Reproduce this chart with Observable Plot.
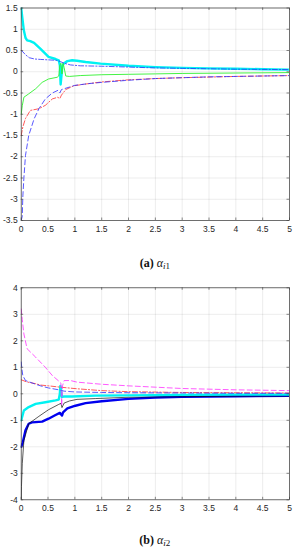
<!DOCTYPE html>
<html><head><meta charset="utf-8">
<script src="https://cdn.jsdelivr.net/npm/d3@7"></script>
<script src="https://cdn.jsdelivr.net/npm/@observablehq/plot@0.6"></script>
<style>
body{margin:0;background:#fff;width:296px;height:550px;position:relative;overflow:hidden}
.panel{position:absolute;left:0}
.cap{position:absolute;left:20.7px;width:268.3px;text-align:center;font-family:"Liberation Serif","DejaVu Serif",serif;font-size:12px;line-height:14px;color:#111}
.cap b{font-weight:bold}
.cap i{font-style:italic}
.cap sub{font-size:9px;vertical-align:-2px}
</style></head><body>
<div id="pa" class="panel" style="top:0"></div>
<div class="cap" style="top:255.5px"><b>(a)</b> <i>α</i><sub><i>i</i>1</sub></div>
<div id="pb" class="panel" style="top:280px"></div>
<div class="cap" style="top:533px"><b>(b)</b> <i>α</i><sub><i>i</i>2</sub></div>
<script>
// shared x ticks
const xTicks = [0, 0.5, 1, 1.5, 2, 2.5, 3, 3.5, 4, 4.5, 5];
// panel (a) y ticks
const yTicksA = [-3.5, -3, -2.5, -2, -1.5, -1, -0.5, 0, 0.5, 1, 1.5];
// panel (b) y ticks
const yTicksB = [-4, -3, -2, -1, 0, 1, 2, 3, 4];

// ---- panel (a) series ----
const tCyanA = [0, 0.02, 0.05, 0.08, 0.11, 0.17, 0.24, 0.36, 0.51, 0.64, 0.7, 0.72, 0.735, 0.75, 0.77, 0.8, 0.86, 0.95, 1.04, 1.2, 1.48, 2, 2.5, 3, 3.5, 4, 4.5, 5];
const vCyanA = [1.5, 1.28, 0.97, 0.8, 0.74, 0.72, 0.68, 0.54, 0.35, 0.3, 0.27, 0.15, -0.3, -0.1, 0.15, 0.2, 0.25, 0.27, 0.26, 0.23, 0.19, 0.14, 0.11, 0.09, 0.08, 0.07, 0.06, 0.05];
const tDashDotBlueA = [0, 0.03, 0.08, 0.15, 0.25, 0.36, 0.5, 0.65, 0.73, 0.8, 0.92, 1.1, 1.5, 2, 2.5, 3, 4, 5];
const vDashDotBlueA = [0.5, 0.47, 0.4, 0.33, 0.3, 0.29, 0.28, 0.27, 0.24, 0.2, 0.16, 0.14, 0.13, 0.11, 0.09, 0.08, 0.06, 0.05];
const tGreenA = [0, 0.02, 0.05, 0.14, 0.27, 0.39, 0.51, 0.67, 0.7, 0.72, 0.74, 0.76, 0.78, 0.8, 0.83, 0.9, 1.1, 1.5, 2, 2.5, 3, 4, 5];
const vGreenA = [-1.0, -0.8, -0.6, -0.52, -0.4, -0.25, -0.17, -0.13, -0.1, 0.15, 0.2, -0.05, 0.2, 0.1, -0.1, -0.11, -0.09, -0.07, -0.06, -0.05, -0.04, -0.03, -0.02];
const tDashBlueA = [0, 0.02, 0.03, 0.05, 0.08, 0.14, 0.24, 0.33, 0.45, 0.58, 0.68, 0.72, 0.75, 0.8, 0.9, 1, 1.25, 1.5, 2, 2.5, 3, 3.5, 4, 4.5, 5];
const vDashBlueA = [-3.5, -3.4, -2.95, -2.5, -1.97, -1.5, -1.11, -0.87, -0.64, -0.5, -0.44, -0.5, -0.42, -0.4, -0.36, -0.32, -0.28, -0.25, -0.2, -0.16, -0.14, -0.12, -0.11, -0.1, -0.09];
const tDashDotRedA = [0, 0.03, 0.08, 0.17, 0.33, 0.45, 0.58, 0.68, 0.72, 0.75, 0.83, 0.98, 1.25, 1.5, 2, 2.5, 3, 4, 5];
const vDashDotRedA = [-1.5, -1.3, -1.1, -0.91, -0.87, -0.79, -0.64, -0.6, -0.63, -0.55, -0.42, -0.33, -0.28, -0.24, -0.19, -0.16, -0.14, -0.11, -0.09];

// ---- panel (b) series ----
const tBlueB = [0, 0.03, 0.08, 0.14, 0.2, 0.27, 0.39, 0.51, 0.64, 0.72, 0.76, 0.78, 0.86, 1.01, 1.2, 1.5, 2, 2.5, 3, 4, 5];
const vBlueB = [-2.0, -1.83, -1.38, -1.13, -1.08, -1.07, -1.05, -0.94, -0.8, -0.72, -0.82, -0.7, -0.55, -0.45, -0.35, -0.28, -0.19, -0.14, -0.11, -0.09, -0.08];
const tBlackB = [0, 0.005, 0.02, 0.05, 0.14, 0.33, 0.51, 0.7, 0.74, 0.76, 0.8, 0.9, 1.04, 1.38, 2, 2.5, 3, 4, 5];
const vBlackB = [-4.0, -3.5, -2.64, -1.76, -1.13, -0.85, -0.6, -0.4, -0.36, -0.52, -0.35, -0.27, -0.21, -0.18, -0.13, -0.12, -0.11, -0.09, -0.08];
const tCyanB = [0, 0.02, 0.05, 0.14, 0.27, 0.45, 0.64, 0.7, 0.72, 0.73, 0.745, 0.76, 0.8, 0.95, 1.38, 2, 3, 4, 5];
const vCyanB = [-1.0, -0.85, -0.63, -0.5, -0.38, -0.32, -0.25, -0.22, 0.0, 0.3, 0.1, -0.12, -0.1, -0.1, -0.07, -0.06, -0.04, -0.03, -0.03];
const tMagentaB = [0, 0.02, 0.05, 0.11, 0.27, 0.45, 0.58, 0.7, 0.74, 0.755, 0.77, 0.8, 0.92, 1.04, 1.5, 2, 2.5, 3, 4, 5];
const vMagentaB = [3.2, 2.8, 2.26, 1.7, 1.38, 1.0, 0.69, 0.48, 0.4, -0.45, 0.3, 0.5, 0.5, 0.44, 0.36, 0.3, 0.25, 0.2, 0.15, 0.12];
const tDashBlueB = [0, 0.015, 0.03, 0.08, 0.27, 0.36, 0.51, 0.7, 0.8, 1, 1.5, 2, 3, 4, 5];
const vDashBlueB = [1.2, 0.9, 0.69, 0.5, 0.36, 0.3, 0.22, 0.15, 0.1, 0.07, 0.05, 0.04, 0.03, 0.02, 0.02];
const tDashDotRedB = [0, 0.1, 0.27, 0.36, 0.51, 0.73, 1.04, 1.5, 2, 3, 4, 5];
const vDashDotRedB = [0.53, 0.45, 0.38, 0.33, 0.3, 0.25, 0.19, 0.12, 0.08, 0.05, 0.04, 0.03];

const DASH = "5,3";
const DASHDOT = "5,2,1.2,2";

function series(t, v, stroke, strokeWidth, dash) {
  return {data: t.map((x, i) => ({t: x, v: v[i]})), stroke, strokeWidth, dash};
}

const seriesA = [
  series(tCyanA, vCyanA, "#00f2f2", 2.4, null),
  series(tDashDotRedA, vDashDotRedA, "#ff3030", 0.8, DASHDOT),
  series(tDashBlueA, vDashBlueA, "#2f2fff", 0.8, DASH),
  series(tGreenA, vGreenA, "#30f030", 0.9, null),
  series(tDashDotBlueA, vDashDotBlueA, "#2f2fff", 0.8, DASHDOT)
];
const seriesB = [
  series(tBlueB, vBlueB, "#0000ee", 2.4, null),
  series(tBlackB, vBlackB, "#111", 0.7, null),
  series(tCyanB, vCyanB, "#00f2f2", 2.4, null),
  series(tDashDotRedB, vDashDotRedB, "#ff3030", 0.8, DASHDOT),
  series(tDashBlueB, vDashBlueB, "#2f2fff", 0.8, DASH),
  series(tMagentaB, vMagentaB, "#ff30ff", 0.8, DASH)
];

function panel(list, yDomain, yTicks, mt, mb) {
  const W = 296, H = 240, ml = 20.7, mr = 7;
  const iw = W - ml - mr, ih = H - mt - mb, tl = 2.5, axisCol = "#3a3a3a";
  const fmt = d => String(d);
  return Plot.plot({
    width: W, height: H,
    marginLeft: ml, marginRight: mr, marginTop: mt, marginBottom: mb,
    x: {domain: [0, 5], ticks: xTicks, label: null},
    y: {domain: yDomain, ticks: yTicks, label: null},
    style: {fontFamily: "'Liberation Sans', Arial, sans-serif", fontSize: "8.5px", color: "#262626", background: "white", overflow: "visible"},
    marks: [
      Plot.gridX(xTicks, {stroke: "#000", strokeOpacity: 0.11, strokeWidth: 0.7}),
      Plot.gridY(yTicks, {stroke: "#000", strokeOpacity: 0.11, strokeWidth: 0.7}),
      Plot.axisX(xTicks, {tickSize: 0, tickPadding: 5.5, tickFormat: fmt, label: null}),
      Plot.axisY(yTicks, {tickSize: 0, tickPadding: 3.5, tickFormat: fmt, label: null}),
      ...list.map(s => Plot.line(s.data, {x: "t", y: "v", stroke: s.stroke, strokeWidth: s.strokeWidth, strokeDasharray: s.dash, strokeLinejoin: "round", clip: true})),
      Plot.tickX(xTicks, {x: d => d, insetTop: ih - tl, stroke: axisCol, strokeWidth: 0.6}),
      Plot.tickX(xTicks, {x: d => d, insetBottom: ih - tl, stroke: axisCol, strokeWidth: 0.6}),
      Plot.tickY(yTicks, {y: d => d, insetRight: iw - tl, stroke: axisCol, strokeWidth: 0.6}),
      Plot.tickY(yTicks, {y: d => d, insetLeft: iw - tl, stroke: axisCol, strokeWidth: 0.6}),
      Plot.frame({stroke: axisCol, strokeWidth: 0.7})
    ]
  });
}

document.getElementById("pa").append(panel(seriesA, [-3.5, 1.5], yTicksA, 7.5, 20));
document.getElementById("pb").append(panel(seriesB, [-4, 4], yTicksB, 7.3, 20.7));
</script>
</body></html>
